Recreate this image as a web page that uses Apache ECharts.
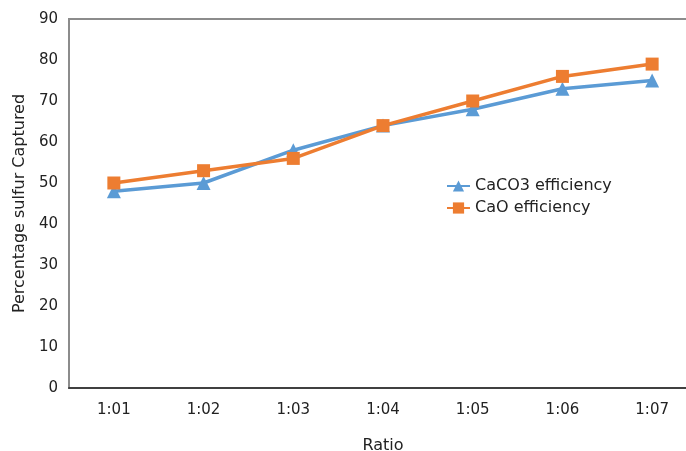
<!DOCTYPE html>
<html><head><meta charset="utf-8">
<script src="https://cdn.jsdelivr.net/npm/echarts@6/dist/echarts.min.js"></script>
<style>html,body{margin:0;padding:0;background:#fff;overflow:hidden}#c{width:686px;height:451px}</style>
</head><body><div id="c"></div>
<script>
const categories = ["1:01","1:02","1:03","1:04","1:05","1:06","1:07"];
const caco3 = [48, 50, 58, 64, 68, 73, 75];
const cao = [50, 53, 56, 64, 70, 76, 79];
const yMin = 0, yMax = 90, yInterval = 10;

const font = "'DejaVu Sans', Verdana, sans-serif";
const chart = echarts.init(document.getElementById('c'));
chart.setOption({
  animation: false,
  backgroundColor: '#fff',
  grid: { left: 69, top: 19, right: -11, bottom: 63, outerBoundsMode: 'none', containLabel: false,
          show: true, borderColor: '#8c8c8c', borderWidth: 2, backgroundColor: 'transparent' },
  legend: {
    orient: 'vertical', left: 441, top: 173, itemWidth: 23, itemHeight: 14, itemGap: 6,
    textStyle: { fontFamily: font, fontSize: 16, color: '#222' },
    data: ['CaCO3 efficiency', 'CaO efficiency']
  },
  xAxis: {
    type: 'category', data: categories, boundaryGap: true,
    name: 'Ratio', nameLocation: 'middle', nameGap: 50,
    nameTextStyle: { fontFamily: font, fontSize: 16, color: '#222' },
    axisLine: { lineStyle: { color: '#404040', width: 2 } },
    axisTick: { show: false },
    axisLabel: { fontFamily: font, fontSize: 15, color: '#222', margin: 15 }
  },
  yAxis: {
    type: 'value', min: yMin, max: yMax, interval: yInterval,
    name: 'Percentage sulfur Captured', nameLocation: 'middle', nameGap: 41,
    nameTextStyle: { fontFamily: font, fontSize: 16, color: '#222' },
    axisLine: { show: true, lineStyle: { color: '#8c8c8c', width: 2 } },
    axisTick: { show: false },
    splitLine: { show: false },
    axisLabel: { fontFamily: font, fontSize: 15, color: '#222', margin: 11 }
  },
  series: [
    { name: 'CaCO3 efficiency', type: 'line', data: caco3, symbol: 'triangle', symbolSize: 14,
      lineStyle: { color: '#5B9BD5', width: 3.5 }, itemStyle: { color: '#5B9BD5' } },
    { name: 'CaO efficiency', type: 'line', data: cao, symbol: 'rect', symbolSize: 13,
      lineStyle: { color: '#ED7D31', width: 3.5 }, itemStyle: { color: '#ED7D31' } }
  ]
});
</script></body></html>
